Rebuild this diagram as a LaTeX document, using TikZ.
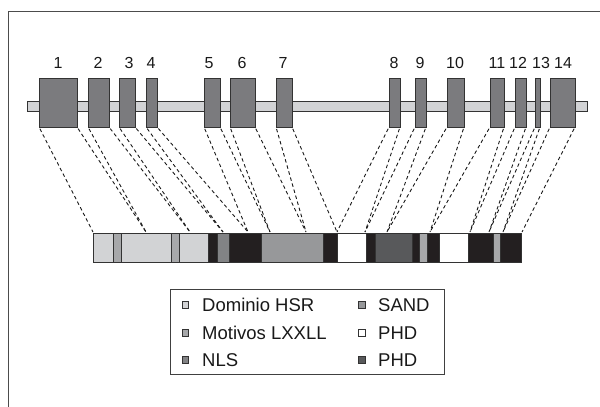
\documentclass[tikz,border=0pt]{standalone}
\usepackage{fontspec}
\setmainfont{Liberation Sans}
\definecolor{exonfill}{HTML}{7B7B7E}
\definecolor{barfill}{HTML}{D2D3D5}
\definecolor{hsr}{HTML}{D2D3D5}
\definecolor{lxx}{HTML}{A7A8AA}
\definecolor{nls}{HTML}{828385}
\definecolor{sand}{HTML}{97989A}
\definecolor{phddark}{HTML}{58595B}
\definecolor{blk}{HTML}{231F20}
\definecolor{edge}{HTML}{333333}
\tikzset{
  exon/.style={draw=edge, fill=exonfill, line width=0.8pt, inner sep=0pt, outer sep=0pt, minimum height=49pt},
  genebar/.style={draw=edge, fill=barfill, line width=0.8pt, inner sep=0pt, outer sep=0pt, minimum height=10pt, minimum width=560pt},
  numlbl/.style={font=\fontsize{16}{17}\selectfont, text=black!90, inner sep=0pt},
  conn/.style={line width=0.9pt, dash pattern=on 3.5pt off 2.8pt, black!90, shorten <=2pt},
  seg/.style={draw=edge, line width=0.5pt},
  legtext/.style={font=\fontsize{18.5}{19}\selectfont, text=black!90, anchor=west, inner sep=0pt},
  legsq/.style={draw=edge, line width=0.6pt, minimum size=6.5pt, inner sep=0pt},
}
\begin{document}
\begin{tikzpicture}[x=1pt,y=-1pt]
\useasboundingbox (0,0) rectangle (600,407);
% frame
\draw[line width=1pt, black!70] (8,407) -- (8,11) -- (600,11);
% gene bar
\node[genebar] (gene) at (307,106) {};
% exons
\foreach \i/\a/\b/\l in {1/39/77/58, 2/88/109/98, 3/119/135/129, 4/146/157/151, 5/204/220/209, 6/230/255/242, 7/276/292/283, 8/389/400/394, 9/415/426/420, 10/447/464/455, 11/490/504/497, 12/515/526/518, 13/535/540/541, 14/550/575/563}{
  \pgfmathsetmacro\w{\b-\a}
  \pgfmathsetmacro\c{(\a+\b)/2}
  \node[exon, minimum width=\w pt] (e\i) at (\c,102.5) {};
  \node[numlbl] (n\i) at (\l,63) {\i};
}
% protein
\foreach \a/\b/\col in {93/113/hsr, 113/121/lxx, 121/171/hsr, 171/179/lxx, 179/208/hsr, 208/217/blk, 217/229/nls, 229/261/blk, 261/323/sand, 323/337/blk, 337/366/white, 366/375/blk, 375/412/phddark, 412/419/blk, 419/427/lxx, 427/439/blk, 439/468/white, 468/493/blk, 493/500/lxx, 500/521/blk}{
  \fill[\col] (\a,233) rectangle (\b,262);
  \draw[seg] (\a,233) rectangle (\b,262);
}
\node[draw=edge, line width=0.6pt, minimum width=428pt, minimum height=29pt, inner sep=0pt, outer sep=0pt] (prot) at (307,247.5) {};
% boundary points
\foreach \j/\x in {0/93, 1/146, 2/190, 3/223, 4/248, 5/270, 6/306, 7/337, 8/365, 9/387, 10/430, 11/470, 12/489, 13/503, 14/522}{
  \coordinate (p\j) at (\x,232);
}
% connectors
\foreach \i in {1,...,14}{
  \pgfmathtruncatemacro\k{\i-1}
  \draw[conn] (e\i.south west) -- (p\k);
  \draw[conn] (e\i.south east) -- (p\i);
}
% legend
\node[draw=black!75, line width=0.8pt, minimum width=274pt, minimum height=85pt, inner sep=0pt] (leg) at (307,331.5) {};
\node[legsq, fill=hsr] (s1) at (185.5,305) {};
\node[legtext] (t1) at (202,305) {Dominio HSR};
\node[legsq, fill=lxx] (s2) at (185.5,333) {};
\node[legtext] (t2) at (202,333) {Motivos LXXLL};
\node[legsq, fill=nls] (s3) at (185.5,360) {};
\node[legtext] (t3) at (202,360) {NLS};
\node[legsq, fill=sand] (s4) at (362,305) {};
\node[legtext] (t4) at (378,305) {SAND};
\node[legsq, fill=white] (s5) at (362,333) {};
\node[legtext] (t5) at (378,333) {PHD};
\node[legsq, fill=phddark] (s6) at (362,360) {};
\node[legtext] (t6) at (378,360) {PHD};
\end{tikzpicture}
\end{document}
